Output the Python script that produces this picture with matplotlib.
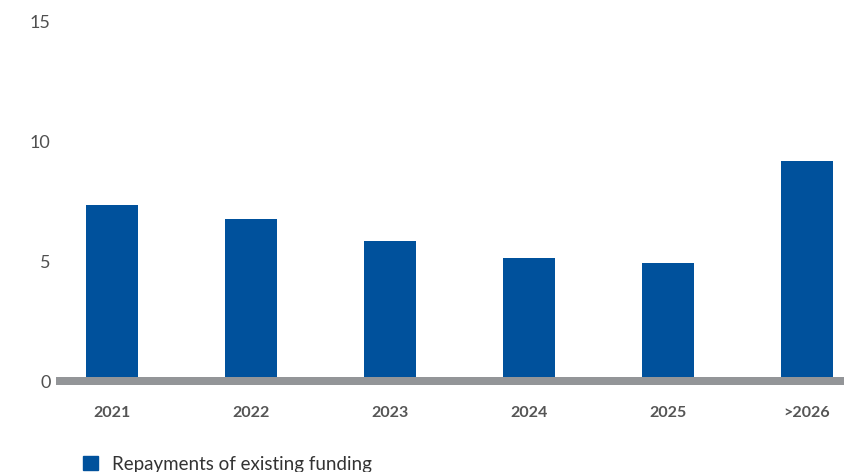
import matplotlib
matplotlib.use("Agg")
import matplotlib.pyplot as plt
from matplotlib.patches import Patch

categories = ["2021", "2022", "2023", "2024", "2025", ">2026"]
repayments = [7.33, 6.75, 5.83, 5.12, 4.92, 9.17]
yticks = [0, 5, 10, 15]
series_name = "Repayments of existing funding"

BLUE = "#00519c"
GREY = "#939598"
TXT = "#555555"

plt.rcParams["font.family"] = ["Lato", "DejaVu Sans"]

fig = plt.figure(figsize=(8.45, 4.72), dpi=100)
# 0 at y=381 px, 15 at y=21 px (24 px per unit)
ax = fig.add_axes([56/845, 1-385/472, 1-56/845, (385-21)/472])

x = range(len(categories))
ax.bar(x, repayments, width=0.374, color=BLUE, zorder=2)
ax.axhspan(-0.146, 0.146, color=GREY, zorder=3, lw=0)

ax.set_xlim(-0.403, 5.273)
ax.set_ylim(-4/24, 15)
ax.set_yticks(yticks)
ax.set_yticklabels([str(t) for t in yticks], fontsize=13, color="#505050", fontweight="normal")
ax.set_xticks(list(x))
ax.set_xticklabels(categories, fontsize=11.5, fontweight="bold", color=TXT)
ax.tick_params(axis="both", length=0)
ax.tick_params(axis="x", pad=15)
ax.tick_params(axis="y", pad=4)
for s in ax.spines.values():
    s.set_visible(False)

fig.legend(handles=[Patch(color=BLUE, label=series_name)], loc="lower left",
           bbox_to_anchor=(74/845, -10/472), frameon=False, fontsize=13.5,
           handlelength=0.8, handleheight=0.8, handletextpad=0.7,
           borderpad=0, labelcolor="#333333")

fig.savefig("out.png", dpi=100)
